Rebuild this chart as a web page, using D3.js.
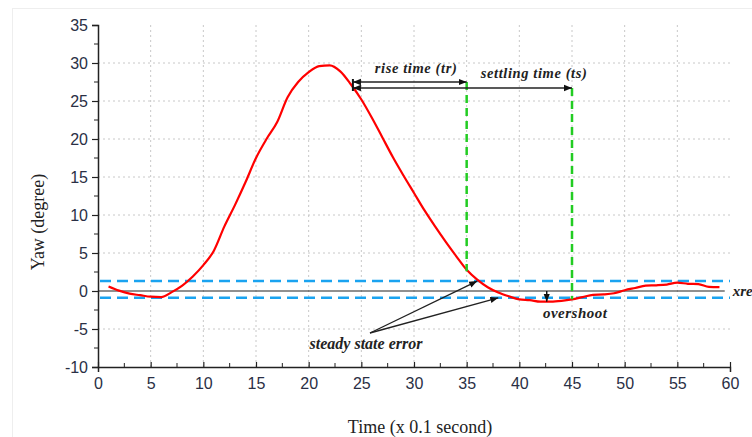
<!DOCTYPE html>
<html>
<head>
  <meta charset="utf-8">
  <title>Yaw response</title>
  <script src="https://d3js.org/d3.v7.min.js"></script>
  <style>
    body{margin:0;background:#fff;}
  </style>
</head>
<body>
  <script>
      // values
      var time=[1,2,3,4,5,6,7,8,9,10,11,12,13,14,15,16,17,18,19,20,21,22,23,24,25,26,27,28,29,30,
                31,32,33,34,35,36,37,38,39,40,41,42,43,44,45,46,47,48,49,50,51,52,53,54,55,56,57,58,59];
      var yaw=[0.6,0.05,-0.35,-0.55,-0.75,-0.8,-0.15,0.7,1.9,3.4,5.3,8.5,11.3,14.3,17.5,20,22.2,25.5,27.5,28.8,
               29.6,29.7,28.9,27.2,25.2,22.8,20.2,17.6,15.2,12.9,10.6,8.5,6.5,4.6,2.8,1.5,0.5,-0.2,-0.7,-1.1,
               -1.2,-1.4,-1.4,-1.3,-1.1,-0.8,-0.5,-0.45,-0.3,0.1,0.4,0.7,0.75,0.85,1.1,0.95,0.9,0.55,0.5];
      var xTicks=[0,5,10,15,20,25,30,35,40,45,50,55,60];
      var yTicks=[-10,-5,0,5,10,15,20,25,30,35];
      var band=[1.3,-0.9];        // steady state error band
      var riseTime=35, settleTime=45, markStart=24.2;
      var overshootAt=42.6, overshootVal=-1.4;

      var W=752,H=437;
      var m={left:98,right:22,top:25,bottom:70};
      var svg=d3.select("body").append("svg").attr("width",W).attr("height",H);

      var x=d3.scaleLinear().domain([0,60]).range([m.left,W-m.right]);
      var y=d3.scaleLinear().domain([-10,35]).range([H-m.bottom,m.top]);

      // faint frame of the figure
      svg.append("rect").attr("x",12.5).attr("y",8.5).attr("width",W-12).attr("height",H-8)
         .attr("fill","none").attr("stroke","#eeeeee");

      // grid
      var grid=svg.append("g").attr("stroke","#c8c8c8").attr("stroke-width",1).attr("stroke-dasharray","2,3");
      grid.selectAll("line.v").data(xTicks.filter(function(d){return d>0&&d<60;})).enter().append("line")
          .attr("x1",function(d){return x(d);}).attr("x2",function(d){return x(d);})
          .attr("y1",y(35)).attr("y2",y(-10));
      grid.selectAll("line.h").data(yTicks.filter(function(d){return d!==0&&d<35&&d>-10;})).enter().append("line")
          .attr("x1",x(0)).attr("x2",x(60))
          .attr("y1",function(d){return y(d);}).attr("y2",function(d){return y(d);});

      // axes
      var fmt=function(d){return String(d);};
      var xAxis=d3.axisBottom(x).tickValues(xTicks).tickFormat(fmt).tickSize(5).tickPadding(6);
      var gx=svg.append("g").attr("transform","translate(0,"+y(-10)+")").call(xAxis);
      var yAxis=d3.axisLeft(y).tickValues(yTicks).tickFormat(fmt).tickSize(6).tickPadding(4);
      var gy=svg.append("g").attr("transform","translate("+x(0)+",0)").call(yAxis);
      [gx,gy].forEach(function(g){
        g.select(".domain").attr("stroke","#222").attr("stroke-width",1.5);
        g.selectAll(".tick line").attr("stroke","#222").attr("stroke-width",1.2);
        g.selectAll("text").attr("font-family","'Liberation Sans', Arial, sans-serif")
         .attr("font-size",16).attr("fill","#2a2f45");
      });
      gx.selectAll(".tick line").attr("y2",-5);
      // minor ticks
      svg.append("g").selectAll("line").data(d3.range(2.5,60,5)).enter().append("line")
         .attr("x1",function(d){return x(d);}).attr("x2",function(d){return x(d);})
         .attr("y1",y(-10)).attr("y2",y(-10)-4).attr("stroke","#222");
      svg.append("g").selectAll("line").data(d3.range(-7.5,35,5)).enter().append("line")
         .attr("x1",x(0)).attr("x2",x(0)-4)
         .attr("y1",function(d){return y(d);}).attr("y2",function(d){return y(d);}).attr("stroke","#222");

      // reference line
      svg.append("line").attr("x1",x(0)).attr("x2",x(59.5)).attr("y1",y(0)).attr("y2",y(0))
         .attr("stroke","#222").attr("stroke-width",1.2);
      svg.append("text").attr("x",x(59.5)+8).attr("y",y(0)+5).text("xref")
         .attr("font-family","'Liberation Serif', serif").attr("font-style","italic")
         .attr("font-weight","bold").attr("font-size",15).attr("fill","#222");

      // blue band
      svg.append("g").selectAll("line").data(band).enter().append("line")
         .attr("x1",x(0)+2).attr("x2",x(60))
         .attr("y1",function(d){return y(d);}).attr("y2",function(d){return y(d);})
         .attr("stroke","#1aa3f0").attr("stroke-width",2.5).attr("stroke-dasharray","11,6");

      // yaw curve
      var line=d3.line().x(function(d,i){return x(time[i]);}).y(function(d){return y(d);})
                 .curve(d3.curveMonotoneX);
      svg.append("path").datum(yaw).attr("d",line).attr("fill","none")
         .attr("stroke","#ff0000").attr("stroke-width",2.2);

      // arrow markers
      var defs=svg.append("defs");
      defs.append("marker").attr("id","ah").attr("viewBox","0 0 10 10").attr("refX",10).attr("refY",5)
          .attr("markerWidth",8).attr("markerHeight",8).attr("markerUnits","userSpaceOnUse").attr("orient","auto")
          .append("path").attr("d","M0,1L10,5L0,9Z").attr("fill","#111");
      defs.append("marker").attr("id","ahs").attr("viewBox","0 0 10 10").attr("refX",0).attr("refY",5)
          .attr("markerWidth",8).attr("markerHeight",8).attr("markerUnits","userSpaceOnUse").attr("orient","auto")
          .append("path").attr("d","M10,1L0,5L10,9Z").attr("fill","#111");

      // green verticals
      var greens=[[riseTime,82,y(2.6)],[settleTime,88,y(-1.1)]];
      svg.append("g").selectAll("line").data(greens).enter().append("line")
         .attr("x1",function(d){return x(d[0]);}).attr("x2",function(d){return x(d[0]);})
         .attr("y1",function(d){return d[1];}).attr("y2",function(d){return d[2];})
         .attr("stroke","#22cc22").attr("stroke-width",2.5).attr("stroke-dasharray","8,5");

      // rise / settling arrows
      var spans=[[riseTime,82],[settleTime,88]];
      svg.append("g").selectAll("line").data(spans).enter().append("line")
         .attr("x1",x(markStart)).attr("x2",function(d){return x(d[0]);})
         .attr("y1",function(d){return d[1];}).attr("y2",function(d){return d[1];})
         .attr("stroke","#222").attr("stroke-width",1.5)
         .attr("marker-start","url(#ahs)").attr("marker-end","url(#ah)");
      svg.append("line").attr("x1",x(markStart)).attr("x2",x(markStart)).attr("y1",79).attr("y2",91)
         .attr("stroke","#111").attr("stroke-width",2);

      var lab={"font-family":"'Liberation Serif', serif","font-style":"italic","font-weight":"bold","font-size":14.5,"fill":"#222"};
      function style(t,o){for(var k in o){t.attr(k,o[k]);}return t;}
      style(svg.append("text").attr("x",x(30.2)).attr("y",73).attr("text-anchor","middle").attr("letter-spacing",0.6).text("rise time (tr)"),lab);
      style(svg.append("text").attr("x",x(41.4)).attr("y",78).attr("text-anchor","middle").attr("letter-spacing",0.6).text("settling time (ts)"),lab);

      // overshoot
      svg.append("line").attr("x1",x(overshootAt)).attr("x2",x(overshootAt))
         .attr("y1",y(0)).attr("y2",y(overshootVal)).attr("stroke","#111").attr("stroke-width",1.5)
         .attr("marker-end","url(#ah)");
      svg.append("text").attr("x",x(45.3)).attr("y",318).attr("text-anchor","middle").text("overshoot")
         .attr("font-family","'Liberation Serif', serif").attr("font-style","italic").attr("font-weight","bold")
         .attr("font-size",15).attr("letter-spacing",0.5).attr("fill","#222");

      // steady state error
      var sse=[[36,1.3],[38,-0.9]];
      svg.append("g").selectAll("line").data(sse).enter().append("line")
         .attr("x1",370).attr("y1",333)
         .attr("x2",function(d){return x(d[0]);}).attr("y2",function(d){return y(d[1]);})
         .attr("stroke","#222").attr("stroke-width",1.3).attr("marker-end","url(#ah)");
      svg.append("text").attr("x",366).attr("y",349).attr("text-anchor","middle").text("steady state error")
         .attr("font-family","'Liberation Serif', serif").attr("font-style","italic").attr("font-weight","bold")
         .attr("font-size",16).attr("fill","#222");

      // axis titles
      svg.append("text").attr("transform","translate(44,222) rotate(-90)").attr("text-anchor","middle")
         .text("Yaw (degree)").attr("font-family","'Liberation Serif', serif").attr("font-size",18).attr("fill","#222");
      svg.append("text").attr("x",420).attr("y",433).attr("text-anchor","middle")
         .text("Time (x 0.1 second)").attr("font-family","'Liberation Serif', serif").attr("font-size",18).attr("fill","#222");
  </script>
</body>
</html>
